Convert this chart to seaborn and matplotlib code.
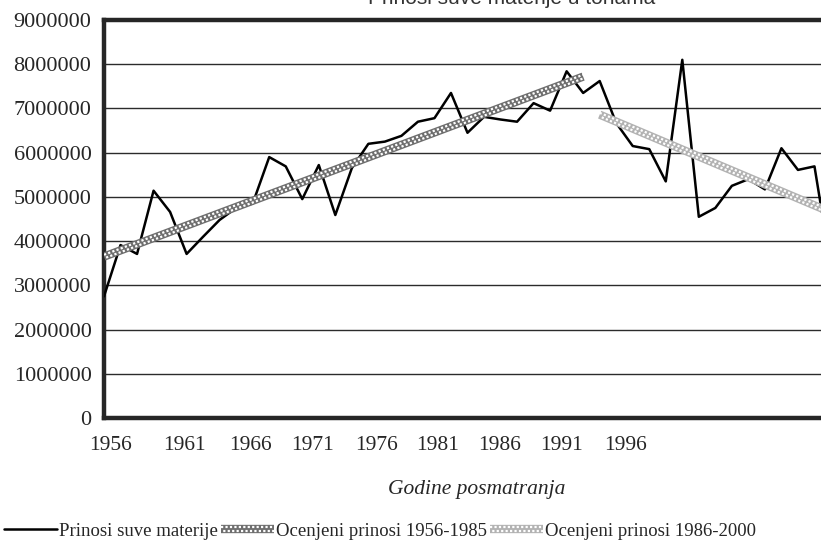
import pandas as pd
import matplotlib
matplotlib.use("Agg")
import matplotlib.pyplot as plt
import matplotlib.patheffects as pe
import seaborn as sns

# Yields of dry matter
years = list(range(1956, 2001))
prinosi = [2750000, 3910000, 3710000, 5140000, 4660000, 3710000, 4100000, 4480000,
           4750000, 4850000, 5900000, 5690000, 4950000, 5720000, 4590000, 5650000,
           6200000, 6250000, 6380000, 6700000, 6780000, 7350000, 6450000, 6810000,
           6750000, 6700000, 7120000, 6950000, 7840000, 7350000, 7620000, 6670000,
           6150000, 6080000, 5350000, 8100000, 4550000, 4750000, 5250000, 5400000,
           5170000, 6100000, 5610000, 5690000, 3400000]

# Estimated (trend) yields, end points
trend1_years = [1956, 1985]
trend1_vals = [3650000, 7720000]
trend2_years = [1986, 2000]
trend2_vals = [6860000, 4650000]

ytick_vals = [0, 1000000, 2000000, 3000000, 4000000, 5000000, 6000000, 7000000, 8000000, 9000000]
xtick_labels = ['1956', '1961', '1966', '1971', '1976', '1981', '1986', '1991', '1996']
# label positions as printed in the scanned figure
xtick_pos = [1956.4, 1960.9, 1964.85, 1968.6, 1972.5, 1976.2, 1979.95, 1983.7, 1987.55]


def checker(base):
    # hatched band: grey line with two rows of staggered white dots
    return [pe.Stroke(linewidth=6.0, foreground=base, capstyle='butt'),
            pe.Stroke(offset=(0, 1.3), linewidth=1.6, foreground='white', capstyle='butt',
                      dashes={'dash_offset': 0, 'dash_list': [1.6, 1.6]}),
            pe.Stroke(offset=(0, -1.3), linewidth=1.6, foreground='white', capstyle='butt',
                      dashes={'dash_offset': 1.6, 'dash_list': [1.6, 1.6]})]


sns.set_style('white')
plt.rcParams['font.family'] = ['Liberation Serif', 'DejaVu Serif']

fig = plt.figure(figsize=(8.21, 5.47), dpi=100)
ax = fig.add_axes([104 / 821, 1 - 418 / 547, (831 - 104) / 821, (418 - 20) / 547])

df = pd.DataFrame({'Godina': years, 'Prinos': prinosi})
t1 = pd.DataFrame({'Godina': trend1_years, 'Prinos': trend1_vals})
t2 = pd.DataFrame({'Godina': trend2_years, 'Prinos': trend2_vals})

sns.lineplot(data=df, x='Godina', y='Prinos', color='black', lw=1.8, ax=ax,
             label='Prinosi suve materije', zorder=3)
sns.lineplot(data=t1, x='Godina', y='Prinos', color='#6e6e6e', lw=6.0, ax=ax,
             label='Ocenjeni prinosi 1956-1985', zorder=4, solid_capstyle='butt',
             path_effects=checker('#6e6e6e'))
sns.lineplot(data=t2, x='Godina', y='Prinos', color='#b2b2b2', lw=6.0, ax=ax,
             label='Ocenjeni prinosi 1986-2000', zorder=4, solid_capstyle='butt',
             path_effects=checker('#b2b2b2'))

ax.set_xlim(1956, 2000)
ax.set_ylim(0, 9000000)
ax.set_yticks(ytick_vals)
ax.set_yticklabels([str(v) for v in ytick_vals], fontsize=16)
ax.set_xticks(xtick_pos)
ax.set_xticklabels(xtick_labels, fontsize=15.5)
ax.tick_params(axis='both', length=0)
ax.tick_params(axis='y', pad=9)
ax.tick_params(axis='x', pad=13)

ax.yaxis.grid(True, color='#2b2b2b', lw=1.0)
ax.xaxis.grid(False)
ax.set_axisbelow(True)
for s in ax.spines.values():
    s.set_visible(True)
    s.set_color('#262626')
    s.set_linewidth(3.2)

ax.set_ylabel('')
ax.set_xlabel('Godine posmatranja', style='italic', fontsize=15.5, va='center')
ax.xaxis.set_label_coords(0.513, -0.18)

# title of the original is cut off at the top edge of the scan
fig.text(655 / 821, 1 - 4 / 547, 'Prinosi suve materije u tonama', ha='right',
         va='baseline', fontsize=15, family='Liberation Sans', color='#333333')

handles, labels = ax.get_legend_handles_labels()
ax.get_legend().remove()
fig.legend(handles, labels, loc='center', bbox_to_anchor=(0.463, 0.029), ncol=3,
           frameon=False, handlelength=2.8, handletextpad=0.1, columnspacing=0.2,
           fontsize=13.5)

fig.savefig('out.png', dpi=100)
